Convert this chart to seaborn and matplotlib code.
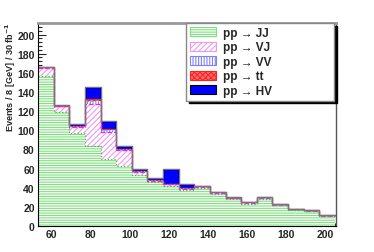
import numpy as np
import pandas as pd
import seaborn as sns
import matplotlib.pyplot as plt
from matplotlib.patches import Patch
from matplotlib.ticker import MultipleLocator

# 8 GeV bins from 53 to 205
edges = list(range(53, 206, 8))
centers = [e + 4 for e in edges[:-1]]

jj = [157, 119, 97, 83.5, 70, 62.2, 53.5, 46, 41.7, 37.2, 39.7, 33.7, 27.8, 23.3, 28.5, 21.5, 16.7, 15.6, 10]
vj = [8, 6, 6.5, 44, 28, 17, 3, 1.2, 2, 1.8, 1.5, 1.2, 1.5, 1, 1, 0.7, 0.6, 0.4, 0.6]
vv = [0.5, 0.5, 0.4, 3, 2, 0.8, 0.5, 0.3, 0.3, 0.3, 0.3, 0.3, 0.2, 0.2, 0.2, 0.2, 0.2, 0.1, 0.2]
tt = [0.3, 0.3, 0.3, 2, 1, 0.5, 0.4, 0.3, 0.3, 0.2, 0.2, 0.2, 0.2, 0.2, 0.2, 0.1, 0.1, 0.1, 0.2]
hv = [0.2, 0.5, 2.5, 13, 8.5, 3.5, 2, 2.5, 15, 4, 0.3, 0.2, 0.2, 0.1, 0.1, 0.1, 0.1, 0.1, 0.1]

labels = ["pp → JJ", "pp → VJ", "pp → VV", "pp → tt", "pp → HV"]

sns.set_style("ticks")
plt.rcParams["font.family"] = ["Liberation Sans", "DejaVu Sans"]
plt.rcParams["font.weight"] = "bold"
plt.rcParams["hatch.linewidth"] = 0.8

# style per process: face, hatch, hatch colour, edge colour, edge style
styles = [
    ("white", "-------", "#7ee07e", "#44bb44", ":"),
    ("white", "//////", "#ee99ee", "#ee22ee", "--"),
    ("white", "||||||", "#8080ff", "#22ddee", ":"),
    ("#ff7070", "xxxxxx", "#ff2020", "#ff2020", "-"),
    ("#0000ff", None, "#0000ff", "black", "-"),
]

layers = [jj, vj, vv, tt, hv]
cum = np.cumsum(np.array(layers, dtype=float), axis=0)

fig, ax = plt.subplots(figsize=(3.74, 2.53), dpi=100)
fig.subplots_adjust(left=0.102, right=0.898, bottom=0.103, top=0.905)

# draw from the top of the stack down, each layer covers the one above it
for i in range(len(layers) - 1, -1, -1):
    face, hatch, hcol, ecol, ls = styles[i]
    df = pd.DataFrame({"mass": centers, "w": cum[i]})
    sns.histplot(data=df, x="mass", weights="w", bins=edges, element="step",
                 fill=True, facecolor=face, edgecolor=hcol, hatch=hatch,
                 linewidth=0, alpha=1, ax=ax)
    sns.histplot(data=df, x="mass", weights="w", bins=edges, element="step",
                 fill=False, color=ecol, linestyle=ls, linewidth=0.9, ax=ax)

# outer outline of the total
df_tot = pd.DataFrame({"mass": centers, "w": cum[-1]})
sns.histplot(data=df_tot, x="mass", weights="w", bins=edges, element="step",
             fill=False, color="#777777", linewidth=0.7, ax=ax)

ax.set_xlim(53, 205.5)
ax.set_ylim(0, 212)
ax.set_xlabel("")
ax.set_ylabel("Events / 8 [GeV] / 30 fb$^{\\mathbf{-1}}$", fontsize=6.6, fontweight="bold", loc="top")
ax.yaxis.set_label_coords(-0.068, 1.01)

ax.xaxis.set_major_locator(MultipleLocator(20))
ax.xaxis.set_minor_locator(MultipleLocator(5))
ax.yaxis.set_major_locator(MultipleLocator(20))
ax.yaxis.set_minor_locator(MultipleLocator(4))
ax.tick_params(which="both", direction="in", labelsize=7.5, width=0.8)
ax.tick_params(axis="y", which="major", length=6, pad=2.5)
ax.tick_params(axis="y", which="minor", length=3)
ax.tick_params(axis="x", which="major", length=4.5, pad=2.5)
ax.tick_params(axis="x", which="minor", length=2.5)
for t in ax.get_xticklabels() + ax.get_yticklabels():
    t.set_fontweight("bold")

ax.spines["left"].set_color("black")
ax.spines["bottom"].set_color("black")
ax.spines["top"].set_color("#999999")
ax.spines["top"].set_linewidth(2)
ax.spines["right"].set_color("#555555")
ax.spines["right"].set_linewidth(1)

handles = []
for face, hatch, hcol, ecol, ls in styles:
    handles.append(Patch(facecolor=face, edgecolor=hcol if hatch else ecol,
                         hatch=hatch, linewidth=0.8))
leg = ax.legend(handles, labels, loc="upper left",
                bbox_to_anchor=(0.497, 0.62, 0.496, 0.38), mode="expand",
                borderaxespad=0, fancybox=False, framealpha=1, edgecolor="#888888",
                shadow={"color": "black", "alpha": 1, "ox": 2, "oy": -2},
                prop={"size": 8.5, "weight": "bold"}, handlelength=2.2,
                handleheight=0.8, labelspacing=0.22, borderpad=0.3,
                handletextpad=0.6)
leg.get_frame().set_linewidth(1)

fig.savefig("out.png", dpi=100)
